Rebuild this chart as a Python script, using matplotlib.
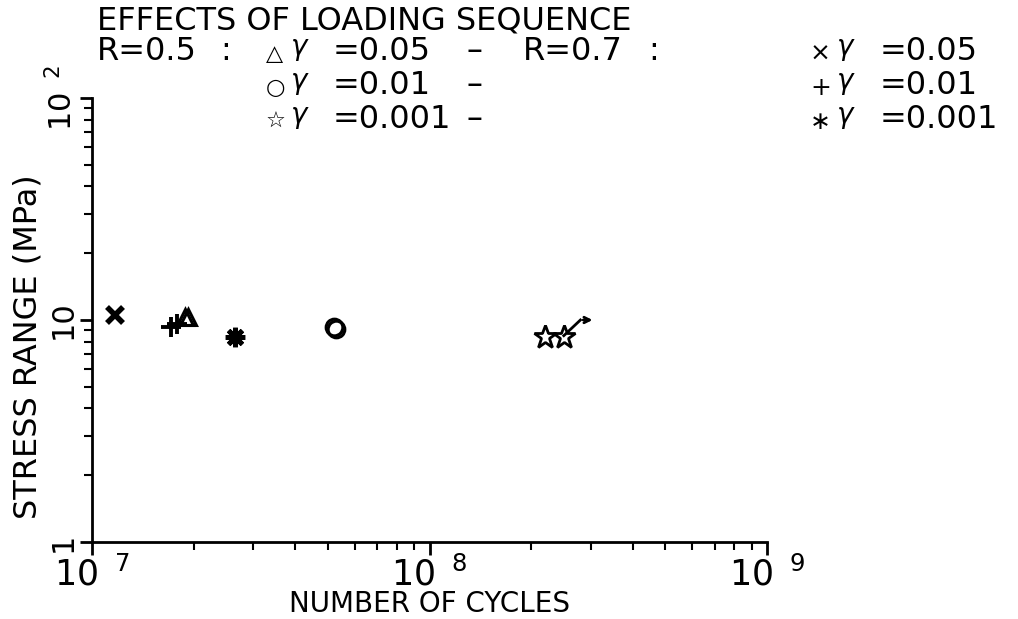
import matplotlib
matplotlib.use("Agg")
import matplotlib.pyplot as plt
import numpy as np

# data
r05_g005_n = [1.89e7, 1.93e7]
r05_g005_s = [10.3, 10.3]
r05_g001_n = [5.2e7, 5.3e7]
r05_g001_s = [9.3, 9.1]
r05_g0001_n = [2.2e8, 2.5e8]
r05_g0001_s = [8.4, 8.4]
r07_g005_n = [1.17e7]
r07_g005_s = [10.5]
r07_g001_n = [1.72e7, 1.79e7]
r07_g001_s = [9.3, 9.6]
r07_g0001_n = [2.65e7]
r07_g0001_s = [8.4]
# runout arrow leaving the last star
runout_n = [2.5e8, 2.8e8, 3.1e8]
runout_s = [8.5, 10.0, 10.0]

plt.rcParams['font.family'] = ['DejaVu Sans']

fig = plt.figure(figsize=(10.18, 6.19), dpi=100)
ax = fig.add_axes([92 / 1018, 1 - 542 / 619, (767 - 92) / 1018, (542 - 98) / 619])

ax.set_xscale('log')
ax.set_yscale('log')
ax.set_xlim(1e7, 1e9)
ax.set_ylim(1, 100)

k = dict(color='black', linestyle='none', clip_on=False)
ax.plot(r05_g005_n, r05_g005_s, marker='^', ms=12, mfc='none', mew=2.2, **k)
ax.plot(r05_g001_n, r05_g001_s, marker='o', ms=12, mfc='none', mew=2.2, **k)
ax.plot(r05_g0001_n, r05_g0001_s, marker='*', ms=17, mfc='none', mew=2.0, **k)
ax.plot(r07_g005_n, r07_g005_s, marker='x', ms=12, mew=4, **k)
ax.plot(r07_g001_n, r07_g001_s, marker='+', ms=15, mew=2.8, **k)
ax.plot(r07_g0001_n, r07_g0001_s, marker=(8, 2, 0), ms=14, mew=3.5, **k)

ax.plot(runout_n[:2], runout_s[:2], color='black', lw=2)
ax.annotate('', xy=(runout_n[2], runout_s[2]), xytext=(runout_n[1], runout_s[1]),
            arrowprops=dict(arrowstyle='->', color='black', lw=2))

for s in ['top', 'right']:
    ax.spines[s].set_visible(False)
for s in ['left', 'bottom']:
    ax.spines[s].set_linewidth(2)

ax.set_xticks([1e7, 1e8, 1e9])
ax.set_xticklabels([r'$\mathregular{10^{\ \ 7}}$', r'$\mathregular{10^{\ \ 8}}$',
                    r'$\mathregular{10^{\ \ 9}}$'], fontsize=25)
ax.set_yticks([1, 10, 100])
ax.set_yticklabels(['1', '10', r'$\mathregular{10^{\ \ 2}}$'], fontsize=22,
                   rotation=90, va='center')
ax.tick_params(which='major', direction='out', length=9, width=2, pad=1)
ax.tick_params(which='minor', direction='out', length=6, width=1.5)

ax.set_xlabel('NUMBER OF CYCLES', fontsize=20)
ax.set_ylabel('STRESS RANGE (MPa)', fontsize=23)
ax.xaxis.set_label_coords(0.5, -0.108)
ax.yaxis.set_label_coords(-0.072, 0.44)

fs = 23
def put(x, y, s, size=fs, **kw):
    fig.text(x / 1018, 1 - y / 619, s, fontsize=size, va='center', ha='left', **kw)

put(97, 21, 'EFFECTS OF LOADING SEQUENCE')
put(97, 52, 'R=0.5')
put(220, 52, ':')
put(523, 52, 'R=0.7')
put(648, 52, ':')

rows = [52, 86, 120]
left_syms = ['\u25b3', '\u25cb', '\u2606']
right_syms = ['\u00d7', '+', '\u2217']
gammas = ['=0.05', '=0.01', '=0.001']
for y, ls, rs, g in zip(rows, left_syms, right_syms, gammas):
    put(266, y + 2, ls, size=16)
    put(290, y - 3, r'$\gamma$', size=20)
    put(333, y, g)
    put(466, y, '\u2013')
    put(810, y + 2, rs, size=18)
    put(836, y - 3, r'$\gamma$', size=20)
    put(880, y, g)

fig.savefig('out.png', dpi=100)
